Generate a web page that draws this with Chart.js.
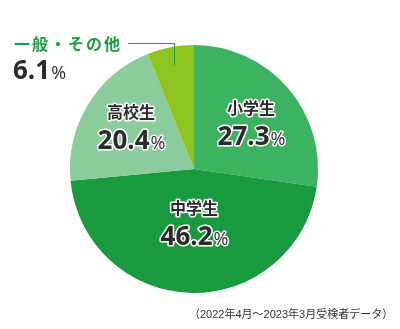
<!DOCTYPE html>
<html>
<head>
<meta charset="utf-8">
<script src="https://cdn.jsdelivr.net/npm/chart.js@4/dist/chart.umd.min.js"></script>
<style>
  html, body { margin: 0; padding: 0; background: #fff; }
  #wrap { position: relative; width: 400px; height: 329px; }
  #note {
    position: absolute; left: 189px; top: 305px;
    font: 11px "Liberation Sans", "Noto Sans CJK JP", sans-serif; color: #333; white-space: nowrap;
  }
</style>
</head>
<body>
<div id="wrap">
  <canvas id="grafico" width="400" height="329"></canvas>
  <div id="note">（2022年4月～2023年3月受検者データ）</div>
</div>
<script>
const categorias = ['小学生', '中学生', '高校生', '一般・その他'];
const porcentajes = [27.3, 46.2, 20.4, 6.1];
const colores = ['#3cb361', '#1a9a3f', '#8ccb9c', '#8fc31f'];

// posición de cada rótulo (centro del bloque nombre + cifra)
const rotulos = [
  { x: 251, y: 108 },
  { x: 194, y: 208 },
  { x: 131, y: 112 },
  null
];

function textoConBorde(ctx, txt, x, y) {
  ctx.lineJoin = 'round';
  ctx.lineWidth = 3;
  ctx.strokeStyle = '#fff';
  ctx.strokeText(txt, x, y);
  ctx.fillText(txt, x, y);
}

function cifra(ctx, valor, cx, y, tamNum, tamPct) {
  const num = valor.toFixed(1);
  ctx.font = `bold ${tamNum}px "Open Sans", sans-serif`;
  const wNum = ctx.measureText(num).width;
  ctx.font = `${tamPct}px "Open Sans", sans-serif`;
  const wPct = ctx.measureText('%').width;
  let x = cx - (wNum + wPct) / 2;
  ctx.textAlign = 'left';
  ctx.font = `bold ${tamNum}px "Open Sans", sans-serif`;
  textoConBorde(ctx, num, x, y);
  ctx.font = `${tamPct}px "Open Sans", sans-serif`;
  textoConBorde(ctx, '%', x + wNum + 1, y);
}

const etiquetas = {
  id: 'etiquetas',
  afterDatasetsDraw(chart) {
    const ctx = chart.ctx;
    ctx.save();
    ctx.textBaseline = 'alphabetic';
    ctx.fillStyle = '#2b2b2b';
    categorias.forEach((cat, i) => {
      const p = rotulos[i];
      if (!p) return;
      ctx.textAlign = 'center';
      ctx.font = 'bold 16px "Noto Sans CJK JP", sans-serif';
      ctx.fillStyle = '#2b2b2b';
      textoConBorde(ctx, cat, p.x, p.y + 6);
      cifra(ctx, porcentajes[i], p.x, p.y + 37, 26, 18);
    });

    // rótulo exterior del sector pequeño
    const arc = chart.getDatasetMeta(0).data[3];
    const medio = (arc.startAngle + arc.endAngle) / 2;
    const px = arc.x + Math.cos(medio) * arc.outerRadius * 0.85;
    const py = arc.y + Math.sin(medio) * arc.outerRadius * 0.85;
    ctx.strokeStyle = '#1e9e46';
    ctx.lineWidth = 1;
    ctx.beginPath();
    ctx.moveTo(128, 43.5);
    ctx.lineTo(Math.round(px) + 0.5, 43.5);
    ctx.lineTo(Math.round(px) + 0.5, py);
    ctx.stroke();

    ctx.textAlign = 'left';
    ctx.fillStyle = '#1e9e46';
    ctx.font = 'bold 16px "Noto Sans CJK JP", sans-serif';
    let x = 14;
    for (const ch of categorias[3]) {
      ctx.fillText(ch, x, 50);
      x += 18;
    }
    ctx.fillStyle = '#2b2b2b';
    const num = porcentajes[3].toFixed(1);
    ctx.font = 'bold 26px "Open Sans", sans-serif';
    ctx.fillText(num, 13, 79);
    const w = ctx.measureText(num).width;
    ctx.font = '18px "Open Sans", sans-serif';
    ctx.fillText('%', 13 + w + 1, 79);
    ctx.restore();
  }
};

new Chart(document.getElementById('grafico'), {
  type: 'pie',
  data: {
    labels: categorias,
    datasets: [{
      data: porcentajes,
      backgroundColor: colores,
      borderWidth: 0
    }]
  },
  options: {
    responsive: false,
    animation: false,
    layout: { padding: { left: 70, right: 82, top: 45, bottom: 36 } },
    plugins: {
      legend: { display: false },
      tooltip: { enabled: false }
    }
  },
  plugins: [etiquetas]
});
</script>
</body>
</html>
